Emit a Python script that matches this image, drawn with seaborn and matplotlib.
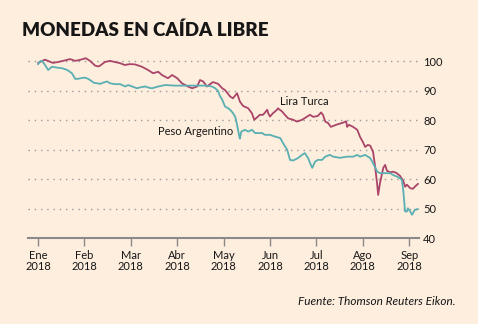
import matplotlib
matplotlib.use("Agg")
import matplotlib.pyplot as plt
import pandas as pd
import seaborn as sns

# Month positions: 0 = 1 Jan 2018, 1 = 1 Feb 2018, ...
lira_t = [0.00, 0.09, 0.15, 0.26, 0.32, 0.43, 0.54, 0.69, 0.80, 0.90, 1.03, 1.12,
          1.23, 1.30, 1.34, 1.44, 1.55, 1.66, 1.77, 1.87, 1.98, 2.09, 2.24, 2.37,
          2.48, 2.59, 2.67, 2.80, 2.89, 3.00, 3.10, 3.23, 3.32, 3.43, 3.49, 3.56,
          3.64, 3.77, 3.88, 3.97, 4.03, 4.14, 4.20, 4.29, 4.35, 4.42, 4.53, 4.61,
          4.66, 4.74, 4.78, 4.85, 4.94, 4.96, 5.00, 5.06, 5.15, 5.17, 5.26, 5.32,
          5.39, 5.50, 5.58, 5.69, 5.80, 5.86, 5.93, 6.03, 6.10, 6.14, 6.19, 6.25,
          6.31, 6.44, 6.57, 6.64, 6.66, 6.70, 6.79, 6.88, 6.94, 7.00, 7.05, 7.11,
          7.16, 7.22, 7.26, 7.31, 7.33, 7.37, 7.44, 7.48, 7.52, 7.59, 7.65, 7.72,
          7.80, 7.87, 7.91, 7.95, 8.02, 8.08, 8.12, 8.19]
lira = [99.5, 100.2, 100.6, 99.9, 99.5, 99.8, 100.2, 100.8, 100.2, 100.5, 101.1, 100.2,
        98.6, 98.3, 98.6, 99.8, 100.2, 99.8, 99.4, 98.8, 99.1, 99.0, 98.2, 97.1,
        96.0, 96.5, 95.4, 94.3, 95.4, 94.3, 92.6, 91.5, 90.9, 91.5, 93.7, 93.2,
        91.5, 93.0, 92.4, 90.9, 90.3, 88.1, 87.5, 89.2, 86.4, 84.9, 84.1, 82.4,
        80.2, 81.3, 81.9, 81.9, 83.6, 82.4, 81.3, 82.4, 83.6, 84.1, 83.0, 81.9,
        80.7, 80.2, 79.6, 80.2, 81.3, 81.9, 81.2, 81.5, 82.7, 81.9, 79.6, 79.1,
        77.8, 78.6, 79.2, 79.7, 77.8, 78.5, 77.8, 76.8, 74.4, 72.7, 71.0, 71.7,
        71.4, 69.3, 64.9, 58.1, 54.7, 58.8, 63.9, 64.9, 62.9, 62.4, 62.6, 62.2,
        61.2, 59.5, 57.5, 58.2, 57.0, 56.8, 57.5, 58.5]

peso_t = [0.00, 0.04, 0.09, 0.15, 0.22, 0.30, 0.41, 0.52, 0.63, 0.73, 0.80, 0.86,
          0.95, 1.01, 1.08, 1.12, 1.21, 1.27, 1.34, 1.42, 1.49, 1.55, 1.66, 1.77,
          1.88, 1.94, 2.03, 2.13, 2.20, 2.31, 2.41, 2.46, 2.59, 2.74, 2.95, 3.17,
          3.38, 3.60, 3.75, 3.81, 3.88, 3.92, 3.97, 4.03, 4.09, 4.14, 4.20, 4.25,
          4.29, 4.31, 4.34, 4.35, 4.38, 4.46, 4.53, 4.61, 4.68, 4.83, 4.89, 5.00,
          5.11, 5.22, 5.28, 5.37, 5.43, 5.50, 5.60, 5.69, 5.75, 5.82, 5.88, 5.91,
          5.97, 6.03, 6.12, 6.19, 6.29, 6.36, 6.51, 6.66, 6.79, 6.88, 6.94, 7.05,
          7.16, 7.22, 7.31, 7.37, 7.52, 7.59, 7.65, 7.74, 7.80, 7.84, 7.87, 7.91,
          7.95, 7.97, 8.02, 8.06, 8.08, 8.12, 8.19]
peso = [99.0, 100.0, 100.2, 98.8, 97.1, 98.2, 97.9, 97.7, 97.1, 96.0, 94.1, 94.1,
        94.4, 94.5, 94.1, 93.7, 92.7, 92.6, 92.4, 92.9, 93.2, 92.6, 92.3, 92.3,
        91.5, 92.0, 91.5, 90.9, 91.2, 91.5, 91.0, 90.9, 91.5, 92.0, 91.8, 91.8,
        91.8, 91.8, 91.5, 91.0, 90.0, 88.3, 87.0, 84.7, 84.2, 83.6, 82.5, 81.2,
        78.5, 76.8, 74.4, 73.8, 76.2, 76.8, 76.2, 76.8, 75.7, 75.7, 75.1, 75.1,
        74.5, 74.0, 72.3, 70.0, 66.6, 66.4, 67.2, 68.3, 68.9, 67.2, 64.9, 63.9,
        66.0, 66.6, 66.6, 67.7, 68.3, 67.7, 67.3, 67.7, 67.7, 68.3, 67.7, 68.3,
        67.2, 65.5, 62.6, 62.1, 62.1, 62.1, 61.5, 60.9, 60.4, 59.8, 56.4, 49.1,
        49.1, 50.2, 49.1, 48.0, 48.5, 49.7, 49.9]

month_labels = ["Ene\n2018", "Feb\n2018", "Mar\n2018", "Abr\n2018", "May\n2018",
                "Jun\n2018", "Jul\n2018", "Ago\n2018", "Sep\n2018"]
y_ticks = [40, 50, 60, 70, 80, 90, 100]

BG = "#FDEEDE"
RED = "#AA4569"
TEAL = "#5AAFB3"
INK = "#161616"

sns.set_theme(style="white")
plt.rcParams["font.family"] = ["Lato", "DejaVu Sans"]

fig = plt.figure(figsize=(4.78, 3.24), dpi=100, facecolor=BG)
ax = fig.add_axes([28 / 478, 1 - 238.3 / 324, (419 - 28) / 478, (238.3 - 52.6) / 324])
ax.set_facecolor(BG)

df_lira = pd.DataFrame({"t": lira_t, "v": lira})
df_peso = pd.DataFrame({"t": peso_t, "v": peso})
sns.lineplot(data=df_lira, x="t", y="v", ax=ax, color=RED, lw=1.3, zorder=3)
sns.lineplot(data=df_peso, x="t", y="v", ax=ax, color=TEAL, lw=1.3, zorder=4)

ax.set_xlim(-0.216, 8.21)
ax.set_ylim(40, 103)
ax.set_xlabel("")
ax.set_ylabel("")

for s in ["top", "left", "right"]:
    ax.spines[s].set_visible(False)
ax.spines["bottom"].set_color("#8a8a8a")
ax.spines["bottom"].set_linewidth(1.5)
ax.spines["bottom"].set_zorder(5)

ax.set_xticks(range(len(month_labels)))
ax.set_xticklabels(month_labels, fontsize=8, color=INK, linespacing=1.0)
ax.tick_params(axis="x", direction="out", length=5.5, width=1.0, color="#8a8a8a",
               pad=3, bottom=True)

ax.yaxis.tick_right()
ax.set_yticks(y_ticks)
ax.set_yticklabels([str(v) for v in y_ticks], fontsize=8, color=INK)
ax.tick_params(axis="y", length=0, pad=3)

ax.set_axisbelow(True)
ax.yaxis.grid(True, linestyle=(0, (1, 3.5)), color="#9a9a9a", lw=1.0)
ax.xaxis.grid(False)

ax.text(5.22, 85.1, "Lira Turca", fontsize=8, color=INK, ha="left", va="baseline")
ax.text(4.20, 75.1, "Peso Argentino", fontsize=8, color=INK, ha="right", va="baseline")

fig.text(22 / 478, 1 - 35.5 / 324, "MONEDAS EN CAÍDA LIBRE", fontsize=13.5,
         fontweight="heavy", color=INK, ha="left", va="baseline")
fig.text(455 / 478, 1 - 305 / 324, "Fuente: Thomson Reuters Eikon.", fontsize=8.5,
         style="italic", color=INK, ha="right", va="baseline")

fig.savefig("out.png", dpi=100, facecolor=BG)
